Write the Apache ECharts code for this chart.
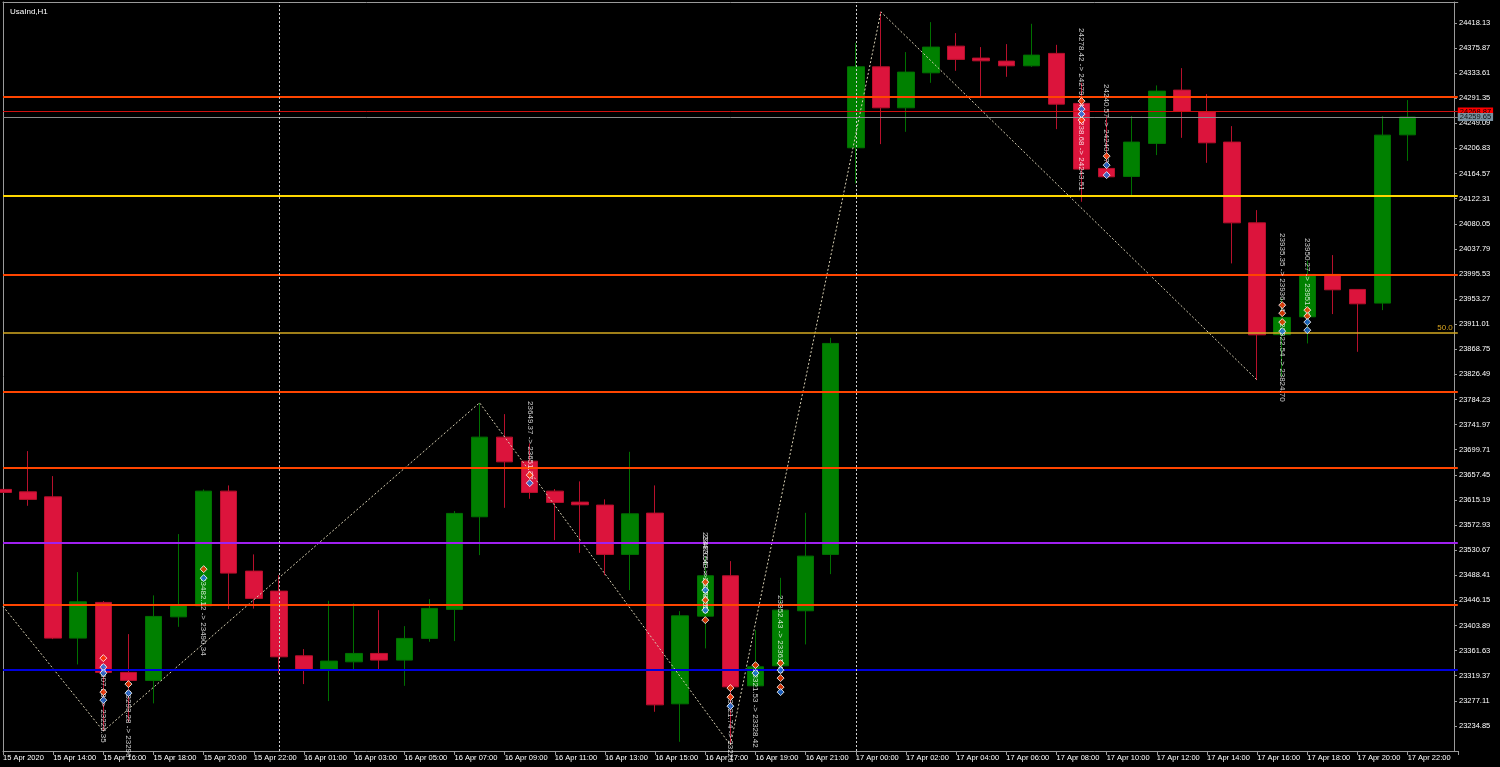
<!DOCTYPE html>
<html><head><meta charset="utf-8">
<script src="https://cdn.jsdelivr.net/npm/echarts@6/dist/echarts.min.js"></script>
<style>html,body{margin:0;padding:0;background:#000;}#c{width:1500px;height:767px;}</style>
</head><body><div id="c"></div>
<script>
const categories = [
 '15 Apr 2020','15 Apr 13:00','15 Apr 14:00','15 Apr 15:00','15 Apr 16:00','15 Apr 17:00','15 Apr 18:00','15 Apr 19:00','15 Apr 20:00','15 Apr 21:00','15 Apr 22:00',
 '16 Apr 00:00','16 Apr 01:00','16 Apr 02:00','16 Apr 03:00','16 Apr 04:00','16 Apr 05:00','16 Apr 06:00','16 Apr 07:00','16 Apr 08:00','16 Apr 09:00','16 Apr 10:00',
 '16 Apr 11:00','16 Apr 12:00','16 Apr 13:00','16 Apr 14:00','16 Apr 15:00','16 Apr 16:00','16 Apr 17:00','16 Apr 18:00','16 Apr 19:00','16 Apr 20:00','16 Apr 21:00','16 Apr 22:00',
 '17 Apr 00:00','17 Apr 01:00','17 Apr 02:00','17 Apr 03:00','17 Apr 04:00','17 Apr 05:00','17 Apr 06:00','17 Apr 07:00','17 Apr 08:00','17 Apr 09:00','17 Apr 10:00',
 '17 Apr 11:00','17 Apr 12:00','17 Apr 13:00','17 Apr 14:00','17 Apr 15:00','17 Apr 16:00','17 Apr 17:00','17 Apr 18:00','17 Apr 19:00','17 Apr 20:00','17 Apr 21:00','17 Apr 22:00',
 '',''
];
// [open, close, low, high]
const candles = [
 [23632.9,23627.8,23627.8,23632.9],[23628.8,23616.1,23605.3,23697.4],[23620.4,23382.6,23380.9,23655.3],[23382.6,23443.7,23338.3,23493.7],
 [23442.7,23324.9,23226.1,23444.9],[23324.9,23311.4,23241.7,23389.3],[23311.4,23419.1,23272.7,23454.5],[23418.4,23438.6,23401.6,23557.7],
 [23437.0,23630.0,23436.0,23632.9],[23630.0,23492.0,23431.4,23639.6],[23495.4,23449.4,23432.3,23523.5],[23461.7,23351.1,23323.2,23488.6],
 [23352.8,23329.9,23305.2,23364.1],[23329.9,23343.9,23276.6,23445.4],[23342.7,23356.8,23327.1,23441.0],[23356.8,23345.6,23328.7,23429.7],
 [23345.6,23382.1,23302.3,23402.8],[23382.1,23432.6,23376.4,23448.2],[23430.9,23592.5,23377.6,23596.4],[23586.8,23720.9,23522.3,23778.7],
 [23720.9,23679.3,23601.9,23759.6],[23680.5,23627.8,23617.1,23710.3],[23630.0,23611.0,23547.5,23633.4],[23611.5,23607.0,23526.2,23646.4],
 [23606.5,23523.5,23488.6,23616.1],[23523.5,23591.8,23463.4,23696.2],[23593.0,23270.3,23258.6,23639.6],[23272.0,23420.1,23208.1,23428.0],
 [23419.6,23487.5,23365.3,23520.6],[23487.5,23300.6,23202.5,23512.2],[23302.3,23334.3,23300.1,23396.1],[23336.0,23429.7,23333.8,23484.1],
 [23428.6,23520.6,23372.0,23593.5],[23523.5,23878.6,23490.3,23888.1],[24207.9,24344.2,24147.9,24384.6],[24344.2,24275.2,24214.1,24436.8],
 [24275.2,24335.3,24234.8,24369.0],[24334.1,24377.4,24317.3,24419.4],[24379.0,24356.7,24337.5,24400.9],[24358.9,24354.3,24294.9,24377.4],
 [24353.8,24345.9,24327.4,24382.4],[24345.9,24363.9,24344.2,24416.6],[24366.8,24281.4,24239.3,24381.2],[24282.6,24172.0,24117.0,24317.3],
 [24173.2,24159.1,24158.5,24261.2],[24159.7,24217.5,24125.4,24261.2],[24215.3,24303.3,24195.6,24312.9],[24305.0,24269.1,24224.7,24342.0],
 [24268.5,24216.3,24182.6,24298.3],[24217.5,24081.6,24013.3,24244.4],[24081.6,23893.1,23816.9,24103.0],[23893.4,23922.4,23822.8,23954.4],
 [23923.4,23994.8,23878.6,24017.7],[23994.8,23968.9,23928.0,24027.3],[23969.5,23945.3,23864.5,23969.5],[23946.5,24229.2,23934.7,24261.2],
 [24229.7,24259.65,24186.0,24288.2]
];
// zigzag turning points [barIndex, price]
const zigzagPoints = [[0,23436.0],[4,23226.1],[19,23778.7],[29,23202.5],[35,24436.8],[50,23816.9]];
const levels = [24294.4,24127.1,23993.6,23797.2,23669.9,23543.0,23438.6,23329.2];
const fibLevel = 23896.5;
const fibText = '50.0';
const askPrice = 24268.87;
const bidPrice = 24259.65;
const dayBreaks = ['16 Apr 00:00','17 Apr 00:00'];
const sellMarks = [[4,23348.9],[4,23291.7],[5,23305.2],[8,23498.7],[21,23657.0],[28,23476.9],[28,23446.6],[28,23412.9],[29,23298.5],[29,23283.3],[30,23337.1],[31,23340.5],[31,23315.3],[31,23300.1],[43,24286.5],[43,24254.5],[44,24193.9],[51,23943.1],[51,23929.6],[51,23914.5],[52,23934.7],[52,23924.6]];
const buyMarks = [[4,23333.8],[4,23323.7],[4,23278.2],[5,23290.0],[8,23483.6],[21,23643.5],[28,23463.4],[28,23429.7],[29,23268.1],[30,23323.7],[31,23328.7],[31,23291.7],[43,24273.0],[43,24264.6],[44,24178.7],[44,24161.9],[51,23899.3],[52,23914.5],[52,23901.0]];
const tradeNotes = [
 [4,23345.6,'23307.28 -> 23226.35'],[5,23300.1,'23293.28 -> 23296'],[8,23493.7,'23482.12 -> 23490.34'],
 [21,23774.8,'23649.37 -> 23651.37'],[28,23552.6,'23483.56 -> 23474.59'],[28,23552.6,'23470.43 -> 23483.53'],
 [29,23291.7,'23221.74 -> 23226'],[30,23333.8,'23321.53 -> 23328.42'],[31,23446.6,'23352.43 -> 23361.43'],
 [43,24402.6,'24278.42 -> 24279.44'],[43,24274.7,'24238.68 -> 24243.51'],[44,24308.4,'24240.57 -> 24240.47'],
 [51,24055.9,'23935.35 -> 23936.74'],[51,23917.9,'23922.54 -> 23824.70'],[52,24047.5,'23950.27 -> 23951.97']
];
const symbolName = 'UsaInd,H1';
const yMin = 23192.59, yMax = 24453.30, yStep = 42.26;

// styles
const noteShift = [4,3,5,-4,-5,-2,3,2,-5,-4,4,-4,-5,3,-5];
const levelColors = ['#FF4500','#FFD700','#FF4500','#FF4500','#FF4500','#A020F0','#FF4500','#0000DD'];
const levelWidths = [2,2,2,2,2,2,2,2];
const FONT = 'Liberation Sans';
const AX = '#9a9a9a';

const chart = echarts.init(document.getElementById('c'), null, {renderer:'canvas'});
const zz = categories.map(()=>null);
zigzagPoints.forEach(p=>{ zz[p[0]] = p[1]; });

const levelLines = levels.map((v,i)=>({yAxis:v, lineStyle:{color:levelColors[i], width:levelWidths[i], type:'solid', opacity:1}}));
levelLines.push({yAxis:fibLevel, lineStyle:{color:'#D4A820', width:1.5, type:'solid', opacity:1},
  label:{show:true, position:'insideEndTop', formatter:fibText, color:'#DAA520', fontSize:8, fontFamily:FONT, distance:[5,1]}});
levelLines.push({yAxis:askPrice, lineStyle:{color:'#D01010', width:1, type:'solid', opacity:1},
  label:{show:true, position:'end', formatter:askPrice.toFixed(2), color:'#000', backgroundColor:'#FF0000', fontSize:7.5, fontFamily:FONT, padding:[0,2], distance:0}});
levelLines.push({yAxis:bidPrice, lineStyle:{color:'#8a8a8a', width:1, type:'solid', opacity:1},
  label:{show:true, position:'end', formatter:bidPrice.toFixed(2), color:'#111', backgroundColor:'#7890A0', fontSize:7.5, fontFamily:FONT, padding:[0,2], distance:0}});

const option = {
  backgroundColor:'#000',
  animation:false,
  title:{text:symbolName, left:5, top:3, textStyle:{color:'#fff', fontSize:8, fontWeight:'normal', fontFamily:FONT}},
  grid:{left:2, right:42.2, top:2, bottom:16},
  xAxis:[{
    type:'category', data:categories, boundaryGap:false,
    axisLine:{lineStyle:{color:AX}},
    axisTick:{interval:1, length:4, lineStyle:{color:AX}},
    axisLabel:{interval:1, align:'left', color:'#fff', fontSize:7.5, fontFamily:FONT, margin:3},
    splitLine:{show:false}
  },{
    type:'category', data:categories, boundaryGap:false, position:'top',
    axisLine:{lineStyle:{color:AX}}, axisTick:{show:false}, axisLabel:{show:false}, splitLine:{show:false}
  }],
  yAxis:[{
    type:'value', position:'right', offset:-3.8, min:yMin, max:yMax, interval:yStep,
    axisLine:{show:true, lineStyle:{color:AX}},
    axisTick:{show:true, length:3, lineStyle:{color:AX}},
    axisLabel:{color:'#fff', fontSize:7.5, fontFamily:FONT, margin:5, align:'left',
      formatter:v=>{const k=(v-yMin)/yStep; if(Math.abs(k-Math.round(k))>0.01||k<0.5||v>yMax-1) return ''; return (yMin+Math.round(k)*yStep).toFixed(2);}},
    splitLine:{show:false}
  },{
    type:'value', position:'left', min:yMin, max:yMax,
    axisLine:{show:true, lineStyle:{color:AX}}, axisTick:{show:false}, axisLabel:{show:false}, splitLine:{show:false}
  }],
  series:[
    {
      type:'candlestick', data:candles, barWidth:17,
      itemStyle:{color:'#008000', color0:'#DC143C', borderColor:'#007000', borderColor0:'#B8102C', borderWidth:1},
      markLine:{silent:true, symbol:'none', animation:false, label:{show:false}, emphasis:{disabled:true}, data:levelLines},
      z:3
    },
    {
      type:'line', data:zz, connectNulls:true, symbol:'none',
      lineStyle:{color:'#d8d0b4', width:1, type:[2,2]},
      markLine:{silent:true, symbol:'none', label:{show:false},
        lineStyle:{color:'#d0d0d0', width:1, type:[2,2]},
        data:dayBreaks.map(d=>({xAxis:d}))},
      z:4
    },
    {
      type:'scatter', data:sellMarks, symbol:'diamond', symbolSize:7,
      itemStyle:{color:'#FF3A00', borderColor:'#fff', borderWidth:1}, z:6
    },
    {
      type:'scatter', data:buyMarks, symbol:'diamond', symbolSize:7,
      itemStyle:{color:'#1E70E0', borderColor:'#fff', borderWidth:1}, z:6
    },
    {
      type:'scatter', symbolSize:1, itemStyle:{color:'rgba(0,0,0,0)'}, z:5,
      data:tradeNotes.map((t,i)=>({value:[t[0],t[1]], name:t[2],
        label:{show:true, position:'inside', rotate:-90, align:'left', verticalAlign:'middle',
          offset:[noteShift[i],0], formatter:t[2], color:'#fff', fontSize:8, fontFamily:FONT}}))
    }
  ]
};
chart.setOption(option);
</script>
</body></html>
